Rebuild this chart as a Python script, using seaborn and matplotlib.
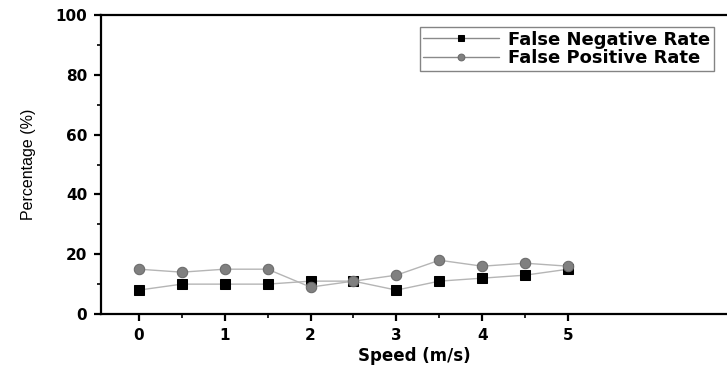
import pandas as pd
import matplotlib.pyplot as plt
import seaborn as sns

# speed values (m/s) and rates (%)
speed = [0, 0.5, 1, 1.5, 2, 2.5, 3, 3.5, 4, 4.5, 5]
false_negative = [8, 10, 10, 10, 11, 11, 8, 11, 12, 13, 15]
false_positive = [15, 14, 15, 15, 9, 11, 13, 18, 16, 17, 16]

sns.set_style("ticks")
plt.rcParams['font.family'] = ['DejaVu Sans']
plt.rcParams['text.color'] = 'black'
plt.rcParams['axes.labelcolor'] = 'black'

fig = plt.figure(figsize=(7.27, 3.69), dpi=100)
ax = fig.add_axes([0.139, 0.149, 0.861, 0.81])

sns.lineplot(x=speed, y=false_negative, ax=ax, color="#b5b5b5", lw=1,
             marker="s", markersize=7, markerfacecolor="black",
             markeredgecolor="black", label="False Negative Rate")
sns.lineplot(x=speed, y=false_positive, ax=ax, color="#b5b5b5", lw=1,
             marker="o", markersize=7.5, markerfacecolor="#808080",
             markeredgecolor="#6a6a6a", label="False Positive Rate")

ax.set_xlim(-0.44, 6.85)
ax.set_ylim(0, 100)
ax.set_xticks([0, 1, 2, 3, 4, 5])
ax.set_xticks([0.5, 1.5, 2.5, 3.5, 4.5], minor=True)
ax.set_yticks([0, 20, 40, 60, 80, 100])
ax.set_yticks([10, 30, 50, 70, 90], minor=True)

for side in ["left", "bottom", "top"]:
    ax.spines[side].set_linewidth(1.6)
    ax.spines[side].set_color("black")
ax.spines["right"].set_visible(False)

ax.tick_params(which="major", direction="out", length=5, width=1.6, pad=5,
               labelsize=11, colors="black")
ax.tick_params(which="minor", direction="out", length=3, width=1.4)
for lab in ax.get_xticklabels() + ax.get_yticklabels():
    lab.set_fontweight("bold")

ax.set_xlabel("Speed (m/s)", fontsize=12, fontweight="bold", labelpad=3)
ax.set_ylabel("Percentage (%)", fontsize=11.5, family="Liberation Sans", labelpad=14)

leg = ax.legend(loc="upper right", bbox_to_anchor=(0.982, 0.927),
                bbox_transform=fig.transFigure, fontsize=13, frameon=True,
                fancybox=False, edgecolor="#666666", handlelength=4.2,
                handletextpad=0.5, borderpad=0.2, labelspacing=0.05,
                borderaxespad=0, markerscale=0.65)
leg.get_frame().set_linewidth(1.0)
for t in leg.get_texts():
    t.set_fontweight("bold")
for h in leg.get_lines():
    h.set_color("#8a8a8a")

plt.savefig("out.png", dpi=100)
